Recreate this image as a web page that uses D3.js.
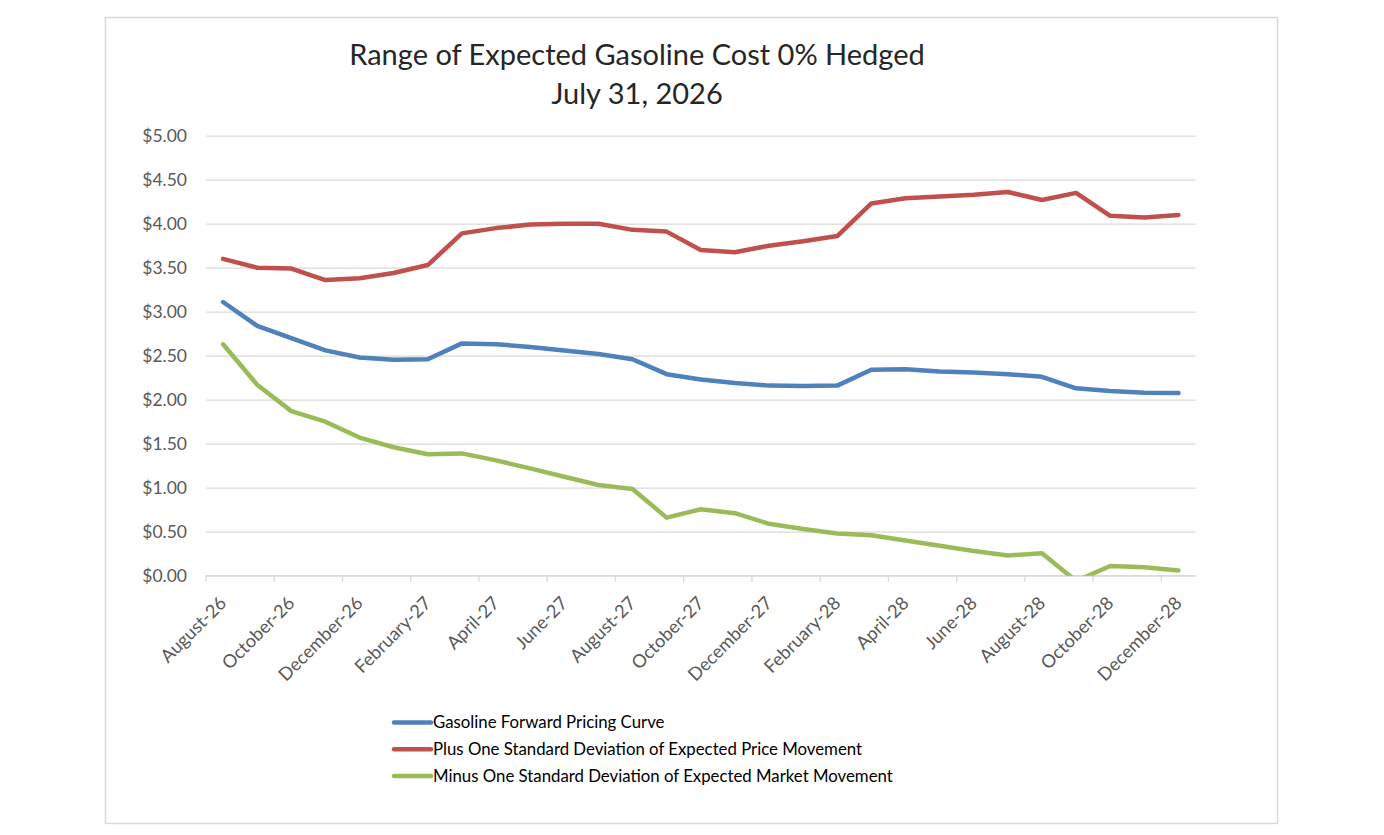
<!DOCTYPE html>
<html>
<head>
<meta charset="utf-8">
<script src="https://cdn.jsdelivr.net/npm/d3@7"></script>
<style>
  body { margin: 0; background: #fff; }
  text { font-family: Lato, "Open Sans", sans-serif; }
</style>
</head>
<body>
<div id="chart"></div>
<script>
// months shown on the category axis
var months = ['August-26','September-26','October-26','November-26','December-26','January-27',
  'February-27','March-27','April-27','May-27','June-27','July-27','August-27','September-27',
  'October-27','November-27','December-27','January-28','February-28','March-28','April-28',
  'May-28','June-28','July-28','August-28','September-28','October-28','November-28','December-28'];

var forwardCurve = [3.11,2.84,2.70,2.56,2.48,2.455,2.46,2.64,2.63,2.60,2.56,2.52,2.46,2.29,2.23,
  2.19,2.16,2.155,2.16,2.34,2.345,2.32,2.31,2.29,2.26,2.13,2.10,2.08,2.075];
var plusOneSd = [3.60,3.50,3.49,3.36,3.38,3.44,3.53,3.89,3.95,3.99,4.00,4.00,3.93,3.91,3.70,
  3.675,3.75,3.80,3.86,4.23,4.29,4.31,4.33,4.36,4.27,4.35,4.09,4.07,4.10];
var minusOneSd = [2.63,2.17,1.87,1.75,1.57,1.46,1.38,1.39,1.31,1.22,1.125,1.03,0.985,0.66,0.755,
  0.71,0.59,0.53,0.48,0.46,0.40,0.34,0.28,0.23,0.255,-0.06,0.11,0.095,0.06];

var yTicks = [0,0.5,1,1.5,2,2.5,3,3.5,4,4.5,5];

var seriesNames = ['Gasoline Forward Pricing Curve',
  'Plus One Standard Deviation of Expected Price Movement',
  'Minus One Standard Deviation of Expected Market Movement'];
var seriesColors = ['#4f81bd','#c0504d','#9bbb59'];
var seriesData = [forwardCurve, plusOneSd, minusOneSd];

var width = 1384, height = 835;
var plotLeft = 206, plotRight = 1195.5, plotTop = 135.7, plotBottom = 575.7;

var svg = d3.select('#chart').append('svg')
  .attr('width', width).attr('height', height);

// outer chart border
svg.append('rect')
  .attr('x', 105.5).attr('y', 17.5).attr('width', 1172).attr('height', 806)
  .attr('fill', '#fff').attr('stroke', '#d9d9d9').attr('stroke-width', 1.5);

var x = d3.scaleBand().domain(months).range([plotLeft, plotRight]);
var y = d3.scaleLinear().domain([0, 5]).range([plotBottom, plotTop]);

// gridlines + y labels
var yAxis = svg.append('g')
  .attr('transform', 'translate(' + plotLeft + ',0)')
  .call(d3.axisLeft(y).tickValues(yTicks).tickSize(-(plotRight - plotLeft)).tickPadding(19)
    .tickFormat(d3.format('$.2f')));
yAxis.select('.domain').remove();
yAxis.selectAll('line').attr('stroke', '#d9d9d9').attr('stroke-width', 1.3);
yAxis.selectAll('text').attr('fill', '#595959').style('font-size', '17.5px')
  .style('font-family', 'Lato, sans-serif');

// category axis: ticks at boundaries every two months
var shown = months.filter(function (d, i) { return i % 2 == 0; });
var xAxisG = svg.append('g').attr('transform', 'translate(0,' + plotBottom + ')');
xAxisG.append('line').attr('x1', plotLeft).attr('x2', plotRight)
  .attr('stroke', '#d9d9d9').attr('stroke-width', 1.3);
xAxisG.selectAll('line.tick')
  .data(shown)
  .enter().append('line')
    .attr('class', 'tick')
    .attr('x1', function (d) { return x(d); }).attr('x2', function (d) { return x(d); })
    .attr('y1', 0).attr('y2', 6)
    .attr('stroke', '#d9d9d9').attr('stroke-width', 1.3);
xAxisG.selectAll('text')
  .data(shown)
  .enter().append('text')
    .attr('transform', function (d) {
      return 'translate(' + (x(d) + x.bandwidth() / 2) + ',24) rotate(-45)';
    })
    .attr('text-anchor', 'end')
    .attr('dy', '0.35em')
    .attr('fill', '#595959')
    .style('font-size', '18.2px')
    .text(function (d) { return d; });

// lines, clipped to the plot area like the original
svg.append('clipPath').attr('id', 'plotClip')
  .append('rect').attr('x', plotLeft).attr('y', plotTop - 20)
  .attr('width', plotRight - plotLeft).attr('height', plotBottom - plotTop + 20);

var line = d3.line()
  .x(function (d, i) { return x(months[i]) + x.bandwidth() / 2; })
  .y(function (d) { return y(d); });

svg.append('g').attr('clip-path', 'url(#plotClip)')
  .selectAll('path')
  .data(seriesData)
  .enter().append('path')
    .attr('d', line)
    .attr('fill', 'none')
    .attr('stroke', function (d, i) { return seriesColors[i]; })
    .attr('stroke-width', 4.5)
    .attr('stroke-linejoin', 'round')
    .attr('stroke-linecap', 'round');

// title
var title = svg.append('text')
  .attr('x', 637).attr('y', 65)
  .attr('text-anchor', 'middle')
  .attr('fill', '#262626')
  .style('font-size', '29px');
title.append('tspan').attr('x', 637).text('Range of Expected Gasoline Cost 0% Hedged');
title.append('tspan').attr('x', 637).attr('dy', 39).text('July 31, 2026');

// legend
var legend = svg.append('g').selectAll('g')
  .data(seriesNames)
  .enter().append('g')
    .attr('transform', function (d, i) { return 'translate(394,' + (722.5 + i * 26.7) + ')'; });
legend.append('line')
  .attr('x1', 0).attr('x2', 37)
  .attr('stroke', function (d, i) { return seriesColors[i]; })
  .attr('stroke-width', 4.5).attr('stroke-linecap', 'round');
legend.append('text')
  .attr('x', 39).attr('dy', '0.35em')
  .attr('fill', '#000')
  .style('font-size', '16.8px')
  .text(function (d) { return d; });
</script>
</body>
</html>
